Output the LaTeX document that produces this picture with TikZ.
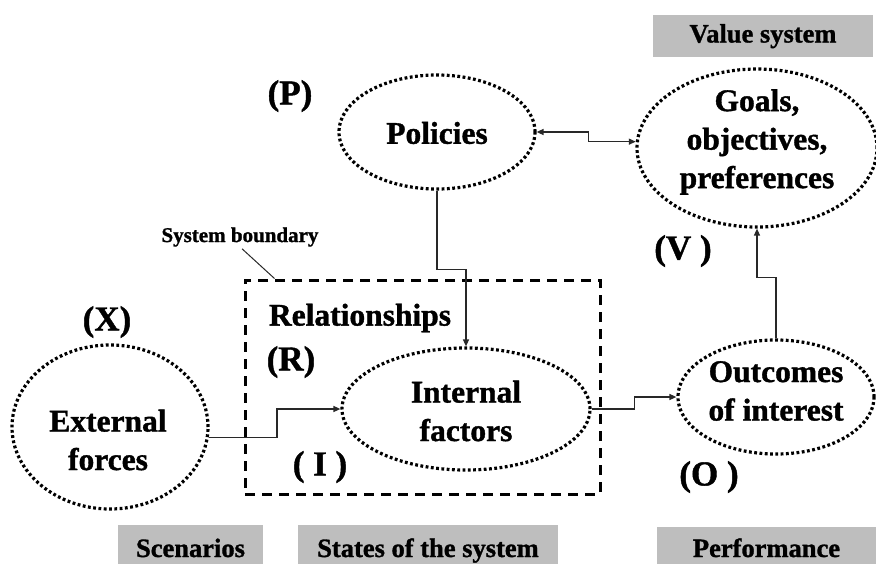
\documentclass[tikz,border=0pt]{standalone}
\usepackage{fontspec}
\setmainfont{Liberation Serif}[BoldFeatures={FakeBold=1.2}]
\usetikzlibrary{shapes.geometric,arrows.meta}
\definecolor{boxgray}{RGB}{190,190,190}
\definecolor{linegray}{RGB}{40,40,40}
\begin{document}
\begin{tikzpicture}[x=1pt,y=-1pt,
  oval/.style={ellipse,draw=black,line width=3.2pt,dash pattern=on 2.8pt off 2.5pt,inner sep=0pt},
  mainlbl/.style={font=\fontsize{31.5}{38.5}\selectfont\bfseries,align=center,inner sep=0pt},
  parenlbl/.style={font=\fontsize{35}{40}\selectfont\bfseries,inner sep=0pt},
  headbox/.style={fill=boxgray,inner sep=0pt,text height=19pt,text depth=6pt,font=\fontsize{26.5}{28}\selectfont\bfseries},
  conn/.style={draw=linegray,line width=1.4pt},
  arr/.style={conn,-{Triangle[length=7pt,width=6pt]}},
  darr/.style={conn,{Triangle[length=7pt,width=6pt]}-{Triangle[length=7pt,width=6pt]}}]
\useasboundingbox (0,0) rectangle (876,563);

% system boundary
\node[draw=black,line width=3pt,dash pattern=on 10pt off 7pt,minimum width=355pt,minimum height=214pt,inner sep=0pt] (bnd) at (422.5,387) {};
\node[font=\fontsize{21}{23}\selectfont\bfseries,inner sep=0pt] (sb) at (240,237) {System boundary};
\coordinate (sbtip) at ([xshift=31pt]bnd.north west);
\draw[line width=1pt,linegray] ([xshift=2pt,yshift=-2pt]sb.south) -- (sbtip);

% ovals
\node[oval,minimum width=196pt,minimum height=114pt] (pol) at (437,132) {};
\node[oval,minimum width=240pt,minimum height=158pt] (goal) at (757,148) {};
\node[oval,minimum width=196pt,minimum height=114pt] (out) at (776,397) {};
\node[oval,minimum width=248pt,minimum height=122pt] (int) at (466,409) {};
\node[oval,minimum width=196pt,minimum height=164pt] (ext) at (110,427) {};

\node[mainlbl] (polt) at (437,133) {Policies};
\node[mainlbl] (goalt) at (757,142) {Goals,\\objectives,\\preferences};
\node[mainlbl] (outt) at (776,391) {Outcomes\\of interest};
\node[mainlbl] (intt) at (466,411) {Internal\\factors};
\node[mainlbl] (extt) at (108,440) {External\\forces};
\node[mainlbl] (rel) at (360,318) {Relationships};

% letters
\node[parenlbl] (lp) at (290,96) {(P)};
\node[parenlbl] (lx) at (107,322) {(X)};
\node[parenlbl] (lv) at (683,251) {(V )};
\node[parenlbl] (lr) at (291,362) {(R)};
\node[parenlbl] (li) at (320,467) {( I )};
\node[parenlbl] (lo) at (709,477) {(O )};

% grey headings
\node[headbox,minimum width=220pt,minimum height=42pt] (hv) at (763,36) {Value system};
\node[headbox,minimum width=145pt,minimum height=51pt] (hs) at (190.5,550.5) {Scenarios};
\node[headbox,minimum width=260pt,minimum height=51pt] (hst) at (428,550.5) {States of the system};
\node[headbox,minimum width=219pt,minimum height=47pt] (hp) at (766.5,550.5) {Performance};

% connectors
\draw[arr] (ext.-6) -- ++(68,0) |- (int.west);
\draw[arr] (int.east) -- ++(43,0) |- (out.west);
\draw[darr] (pol.east) -- ++(52,0) |- (goal.177);
\draw[arr] (pol.south) -- ++(0,79) -| (int.north);
\draw[arr] (out.north) -- ++(0,-61) -| (goal.south);
\end{tikzpicture}
\end{document}
